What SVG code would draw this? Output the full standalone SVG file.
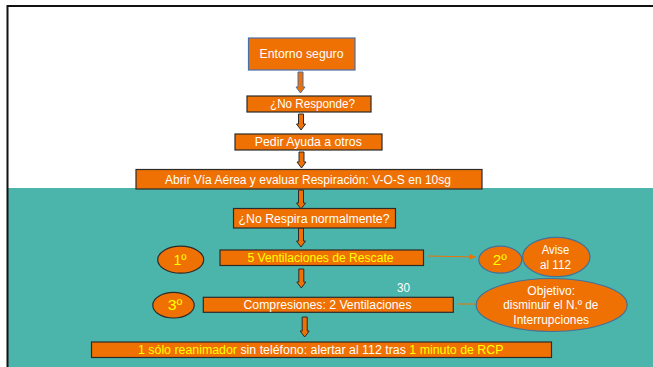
<svg xmlns="http://www.w3.org/2000/svg" width="653" height="367" viewBox="0 0 653 367">
<defs>
<style>
.box{fill:#ef7103;stroke:#2b2b2b;stroke-width:1.2}
.boxb{fill:#ef7103;stroke:#4a6fa8;stroke-width:1.2}
.ell{fill:#ef7103;stroke:#2b2b2b;stroke-width:1.2}
.ellb{fill:#ef7103;stroke:#41719c;stroke-width:1.2}
.arr{fill:#ef7103;stroke:#2b2b2b;stroke-width:1}
.arrb{fill:#ef7103;stroke:#4a6fa8;stroke-width:1}
.t{font-family:"Liberation Sans",Arial,sans-serif;font-size:12px;fill:#ffffff;text-anchor:middle}
.y{fill:#ffff00}
.big{font-size:14px}
.ln{stroke:#ef7103;stroke-width:1;fill:none}
</style>
<marker id="ah" markerWidth="8" markerHeight="8" refX="7" refY="4" orient="auto" markerUnits="userSpaceOnUse">
<path d="M0,1 L7,4 L0,7 Z" fill="#ef7103"/>
</marker>
</defs>
<rect x="0" y="0" width="653" height="367" fill="#ffffff"/>
<rect x="8" y="188" width="645" height="179" fill="#4cb5ab"/>
<path d="M7.5,367 V6 H653" fill="none" stroke="#111111" stroke-width="2"/>

<g id="connectors">
<path class="arrb" d="M298,72 H303 V87 H305 L300.5,93 L296,87 H298 Z"/>
<path class="arr" d="M298.5,114 H303.5 V124 H305.5 L301,130 L296.5,124 H298.5 Z"/>
<path class="arr" d="M299,152 H304 V162 H306 L301.5,168 L297,162 H299 Z"/>
<path class="arr" d="M298.5,190 H303.5 V203 H305.5 L301,209 L296.5,203 H298.5 Z"/>
<path class="arr" d="M298.5,228 H303.5 V241 H305.5 L301,247 L296.5,241 H298.5 Z"/>
<path class="arr" d="M298.8,269 H303.8 V282 H305.8 L301.3,288 L296.8,282 H298.8 Z"/>
<path class="arr" d="M302.2,317 H307.2 V331 H309.2 L304.7,337 L300.2,331 H302.2 Z"/>
<path class="ln" d="M428,256 L476,257" marker-end="url(#ah)"/>
<path class="ln" d="M458,304 H476"/>
</g>

<g id="entorno">
<rect class="boxb" x="248.5" y="38" width="106.5" height="32"/>
<text class="t" x="301.5" y="58" textLength="84" lengthAdjust="spacingAndGlyphs">Entorno seguro</text>
</g>
<g id="no-responde">
<rect class="box" x="247" y="96" width="124" height="16"/>
<text class="t" x="312.5" y="108" textLength="85" lengthAdjust="spacingAndGlyphs">¿No Responde?</text>
</g>
<g id="pedir-ayuda">
<rect class="box" x="235" y="134" width="147" height="16"/>
<text class="t" x="308.3" y="146" textLength="107" lengthAdjust="spacingAndGlyphs">Pedir Ayuda a otros</text>
</g>
<g id="abrir-via">
<rect class="box" x="136" y="169.5" width="346" height="19.5"/>
<text class="t" x="308" y="183.5" textLength="286" lengthAdjust="spacingAndGlyphs">Abrir Vía Aérea y evaluar Respiración: V-O-S en 10sg</text>
</g>
<g id="no-respira">
<rect class="box" x="233.5" y="208.5" width="162" height="19.5"/>
<text class="t" x="314" y="222.5" textLength="151" lengthAdjust="spacingAndGlyphs">¿No Respira normalmente?</text>
</g>
<g id="ventilaciones">
<rect class="box" x="220" y="250" width="203.5" height="15.5"/>
<text class="t y" x="320.5" y="262" textLength="146" lengthAdjust="spacingAndGlyphs">5 Ventilaciones de Rescate</text>
</g>
<g id="paso1">
<ellipse class="ell" cx="180.7" cy="259.7" rx="23" ry="13.5"/>
<text class="t y big" x="180" y="264.8" textLength="13" lengthAdjust="spacingAndGlyphs">1º</text>
</g>
<g id="paso2">
<ellipse class="ellb" cx="500.3" cy="259.7" rx="21.5" ry="13.5"/>
<text class="t y big" x="499.7" y="264.8" textLength="14" lengthAdjust="spacingAndGlyphs">2º</text>
</g>
<g id="avise">
<ellipse class="ellb" cx="556.3" cy="257" rx="33.7" ry="19.7"/>
<text class="t" x="555.5" y="254.3" textLength="27.5" lengthAdjust="spacingAndGlyphs">Avise</text>
<text class="t" x="555.5" y="268.5" textLength="31" lengthAdjust="spacingAndGlyphs">al 112</text>
</g>
<g id="treinta">
<text class="t" x="403.5" y="292.3" textLength="13" lengthAdjust="spacingAndGlyphs">30</text>
</g>
<g id="compresiones">
<rect class="box" x="203.3" y="297.3" width="250" height="15"/>
<text class="t" x="327.5" y="309" textLength="168" lengthAdjust="spacingAndGlyphs">Compresiones: 2 Ventilaciones</text>
</g>
<g id="paso3">
<ellipse class="ell" cx="173.5" cy="305.2" rx="20.7" ry="12.8"/>
<text class="t y big" x="175" y="310.2" textLength="14.6" lengthAdjust="spacingAndGlyphs">3º</text>
</g>
<g id="objetivo">
<ellipse class="ellb" cx="551.7" cy="305" rx="75.5" ry="26.5"/>
<text class="t" x="551.2" y="295.3" textLength="47.7" lengthAdjust="spacingAndGlyphs">Objetivo:</text>
<text class="t" x="550.8" y="309.3" textLength="95" lengthAdjust="spacingAndGlyphs">disminuir el N.º de</text>
<text class="t" x="551.2" y="323.5" textLength="75.7" lengthAdjust="spacingAndGlyphs">Interrupciones</text>
</g>
<g id="reanimador">
<rect class="box" x="91.5" y="342" width="460" height="15.5"/>
<text class="t" x="138" y="354" style="text-anchor:start" textLength="365.5" lengthAdjust="spacingAndGlyphs"><tspan class="y">1 sólo reanimador</tspan> sin teléfono: alertar al 112 tras <tspan class="y">1 minuto de RCP</tspan></text>
</g>
</svg>
